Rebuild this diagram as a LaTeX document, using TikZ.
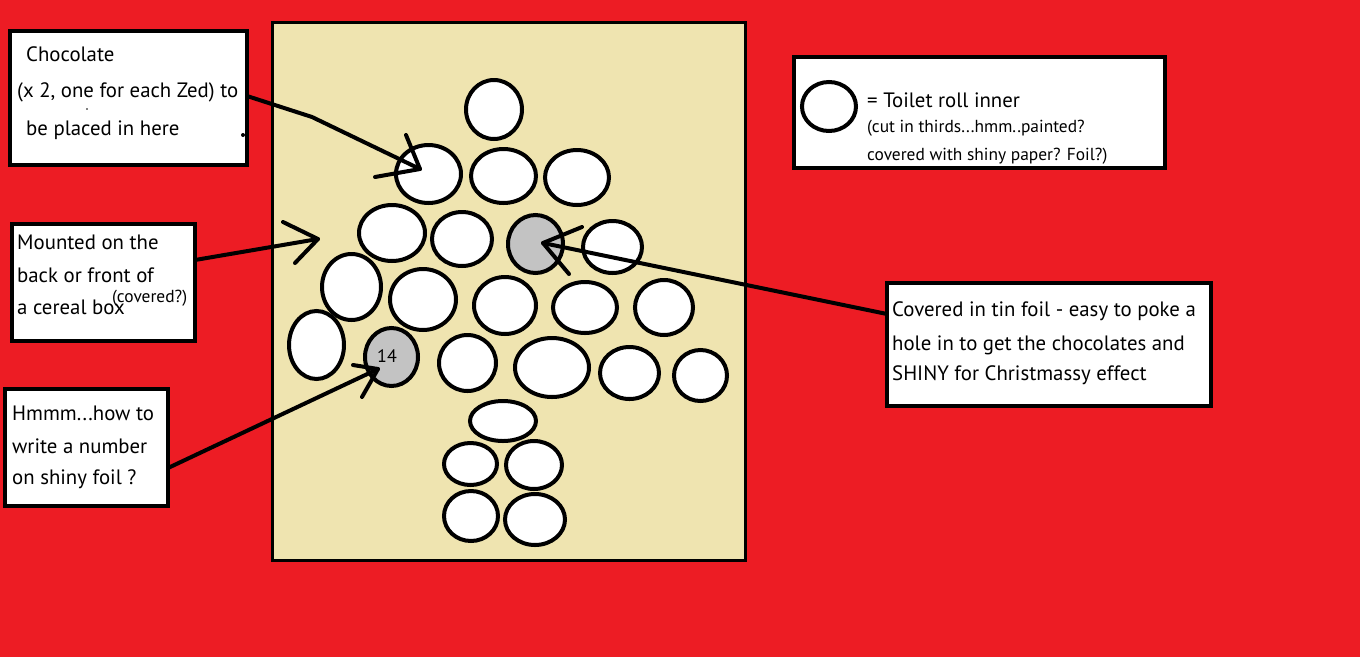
\documentclass[tikz,border=0pt]{standalone}
\usepackage{fontspec}
\setmainfont{PT Sans}
\usetikzlibrary{shapes.geometric}
\definecolor{bgred}{RGB}{237,28,36}
\definecolor{boardtan}{RGB}{239,228,176}
\definecolor{foil}{RGB}{195,195,195}
\newcommand\rollat[6][white]{\node[roll,fill=#1,minimum width=#5pt,minimum height=#6pt] (#2) at (#3,#4) {};}
\begin{document}
\begin{tikzpicture}[x=1pt,y=-1pt,
  board/.style={rectangle,draw=black,line width=3pt,fill=boardtan,inner sep=0pt,outer sep=0pt},
  notebox/.style={rectangle,draw=black,line width=4pt,fill=white,inner sep=0pt,outer sep=0pt},
  roll/.style={ellipse,draw=black,line width=4pt,inner sep=0pt,outer sep=0pt},
  conn/.style={draw=black,line width=4pt,line cap=round,line join=round},
  txt/.style={anchor=base west,inner sep=0pt,font=\fontsize{20.8}{24}\selectfont},
  smalltxt/.style={anchor=base west,inner sep=0pt,font=\fontsize{17.4}{20}\selectfont}]
\useasboundingbox (0,0) rectangle (1360,657);
\fill[bgred] (0,0) rectangle (1360,657);
% board
\node[board,minimum width=473pt,minimum height=538pt] (board) at (509,291.5) {};
% rolls
\rollat{r1}{494}{109.5}{56}{59}
\rollat{r2}{428.5}{174}{65}{58}
\rollat{r3}{503.5}{176}{65}{54}
\rollat{r4}{577}{177.5}{64}{55}
\rollat{r5}{392}{233}{66}{56}
\rollat{r6}{462}{239}{60}{54}
\rollat[foil]{g1}{535.5}{244}{55}{58}
\rollat{r8}{612.5}{247}{59}{52}
\rollat{r9}{351.5}{287}{59}{66}
\rollat{r10}{423}{299.5}{66}{61}
\rollat{r11}{505}{305.5}{62}{57}
\rollat{r12}{585}{307.5}{64}{51}
\rollat{r13}{664}{307.5}{58}{55}
\rollat{r14}{316.5}{345}{55}{68}
\rollat[foil]{g2}{391.5}{357}{53}{58}
\rollat{r16}{467.5}{363}{57}{56}
\rollat{r17}{552}{367.5}{74}{59}
\rollat{r18}{629.5}{373}{59}{52}
\rollat{r19}{700.5}{375.5}{53}{51}
\rollat{r20}{503}{421}{66}{40}
\rollat{r21}{470.5}{464}{53}{42}
\rollat{r22}{534}{465}{56}{48}
\rollat{r23}{471}{516}{54}{50}
\rollat{r24}{535}{519.5}{60}{51}
\node[anchor=center,inner sep=0pt,font=\fontsize{18}{20}\selectfont] (num) at (387,356) {14};
% note boxes
\node[notebox,minimum width=237pt,minimum height=134pt] (b1) at (128.5,98) {};
\node[notebox,minimum width=183pt,minimum height=117pt] (b2) at (103.5,282.5) {};
\node[notebox,minimum width=163pt,minimum height=117pt] (b3) at (86.5,447.5) {};
\node[notebox,minimum width=371pt,minimum height=111pt] (b4) at (979.5,112.5) {};
\node[notebox,minimum width=324pt,minimum height=123pt] (b5) at (1049,344.5) {};
\rollat{leg}{829}{106.5}{54}{49}
% texts
\node[txt] (t1a) at (26,61) {Chocolate};
\node[txt] (t1b) at (17,97) {(x 2, one for each Zed) to};
\node[txt] (t1c) at (26,135) {be placed in here};
\fill (243,135) circle (2);
\fill (87,109) circle (0.8);
\node[txt] (t2a) at (17,249) {Mounted on the};
\node[txt] (t2b) at (17,282) {back or front of};
\node[txt] (t2c) at (17,314) {a cereal box};
\node[smalltxt] (t2d) at (112,302) {(covered?)};
\node[txt] (t3a) at (12,420) {Hmmm...how to};
\node[txt] (t3b) at (12,453) {write a number};
\node[txt] (t3c) at (12,484) {on shiny foil ?};
\node[txt] (t4a) at (867,107) {= Toilet roll inner};
\node[smalltxt] (t4b) at (867,132) {(cut in thirds...hmm..painted?};
\node[smalltxt] (t4c) at (867,160) {covered with shiny paper? Foil?)};
\node[txt] (t5a) at (892,316) {Covered in tin foil - easy to poke a};
\node[txt] (t5b) at (892,350) {hole in to get the chocolates and};
\node[txt] (t5c) at (892,380) {SHINY for Christmassy effect};
% arrow 1
\coordinate (a1s) at (b1.east |- 0,96);
\coordinate (a1m) at (312,117);
\coordinate (a1t) at (420,169);
\coordinate (a1h1) at (406,135);
\coordinate (a1h2) at (375,177);
\draw[conn] (a1s) -- (a1m) -- (a1t);
\draw[conn] (a1h1) -- (a1t) -- (a1h2);
% arrow 2
\coordinate (a2s) at (b2.east |- 0,260);
\coordinate (a2t) at (318,239);
\coordinate (a2h1) at (283,222);
\coordinate (a2h2) at (295,263);
\draw[conn] (a2s) -- (a2t);
\draw[conn] (a2h1) -- (a2t) -- (a2h2);
% arrow 3
\coordinate (a3s) at (b5.west |- 0,314);
\coordinate (a3t) at (543,243);
\coordinate (a3h1) at (582,227);
\coordinate (a3h2) at (569,274);
\draw[conn] (a3s) -- (a3t);
\draw[conn] (a3h1) -- (a3t) -- (a3h2);
% arrow 4
\coordinate (a4s) at (b3.east |- 0,468);
\coordinate (a4t) at (378,369);
\coordinate (a4h1) at (353,365);
\coordinate (a4h2) at (362,397);
\draw[conn] (a4s) -- (a4t);
\draw[conn] (a4h1) -- (a4t) -- (a4h2);
\end{tikzpicture}
\end{document}
